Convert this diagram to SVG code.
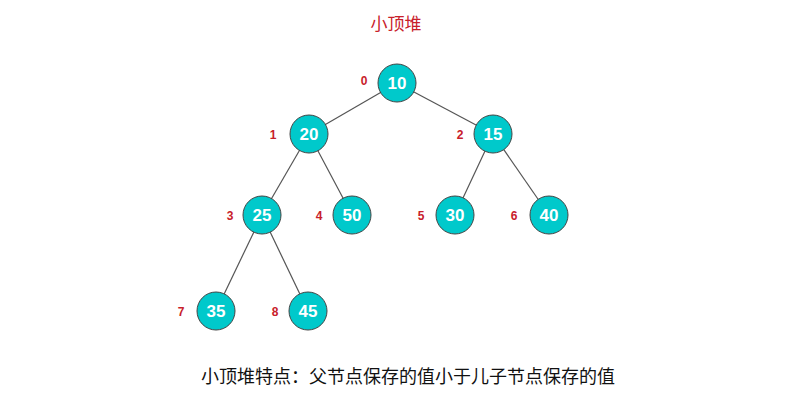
<svg xmlns="http://www.w3.org/2000/svg" width="793" height="415" viewBox="0 0 793 415">
<style>
.n circle{fill:#00c9cb;stroke:#444;stroke-width:1}
.n text{font-family:"Liberation Sans",Arial,sans-serif;font-weight:bold;font-size:17px;fill:#fff;text-anchor:middle}
.i{font-family:"Liberation Sans",Arial,sans-serif;font-weight:bold;font-size:12px;fill:#c8202a;text-anchor:middle}
#edges line{stroke:#555;stroke-width:1.2}
</style>
<rect width="793" height="415" fill="#fff"/>
<text x="396" y="30" font-family="Noto Sans CJK SC,sans-serif" font-size="17" fill="#c8202a" text-anchor="middle">小顶堆</text>
<g id="edges">
<line x1="397" y1="83" x2="309" y2="134"/><line x1="397" y1="83" x2="493" y2="134"/>
<line x1="309" y1="134" x2="262" y2="215"/><line x1="309" y1="134" x2="352" y2="215"/>
<line x1="493" y1="134" x2="455" y2="215"/><line x1="493" y1="134" x2="549" y2="215"/>
<line x1="262" y1="215" x2="216" y2="311"/><line x1="262" y1="215" x2="308" y2="311"/>
</g>
<g id="n0" class="n"><circle cx="397" cy="83" r="19"/><text x="397" y="89">10</text></g>
<g id="n1" class="n"><circle cx="309" cy="134" r="19"/><text x="309" y="140">20</text></g>
<g id="n2" class="n"><circle cx="493" cy="134" r="19"/><text x="493" y="140">15</text></g>
<g id="n3" class="n"><circle cx="262" cy="215" r="19"/><text x="262" y="221">25</text></g>
<g id="n4" class="n"><circle cx="352" cy="215" r="19"/><text x="352" y="221">50</text></g>
<g id="n5" class="n"><circle cx="455" cy="215" r="19"/><text x="455" y="221">30</text></g>
<g id="n6" class="n"><circle cx="549" cy="215" r="19"/><text x="549" y="221">40</text></g>
<g id="n7" class="n"><circle cx="216" cy="311" r="19"/><text x="216" y="317">35</text></g>
<g id="n8" class="n"><circle cx="308" cy="311" r="19"/><text x="308" y="317">45</text></g>
<text class="i" x="364" y="85">0</text>
<text class="i" x="273" y="139">1</text>
<text class="i" x="460" y="139">2</text>
<text class="i" x="230" y="220">3</text>
<text class="i" x="319" y="220">4</text>
<text class="i" x="421" y="220">5</text>
<text class="i" x="514" y="220">6</text>
<text class="i" x="181" y="316">7</text>
<text class="i" x="275" y="316">8</text>
<text x="408" y="383" font-family="Noto Sans CJK SC,sans-serif" font-size="18" fill="#111" text-anchor="middle">小顶堆特点：父节点保存的值小于儿子节点保存的值</text>
</svg>
